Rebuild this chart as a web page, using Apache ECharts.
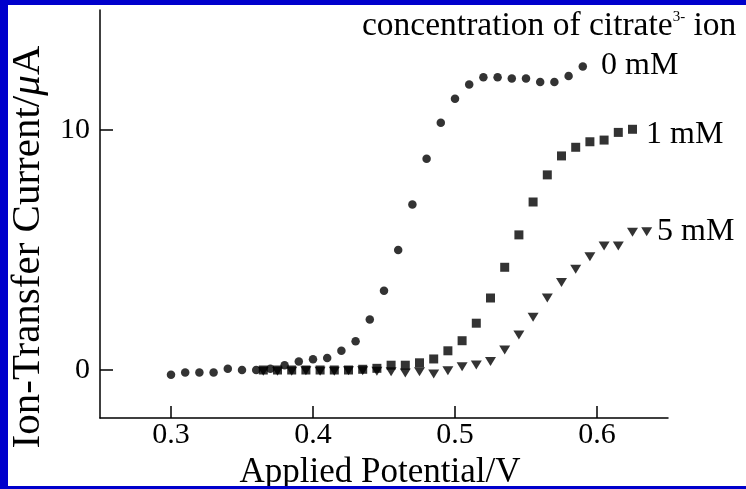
<!DOCTYPE html>
<html>
<head>
<meta charset="utf-8">
<script src="https://cdn.jsdelivr.net/npm/echarts@6/dist/echarts.min.js"></script>
<style>
  html, body { margin: 0; padding: 0; background: #fff; overflow: hidden; width: 100%; height: 100%; }
  #frame {
    position: fixed; left: 0; top: 0; width: 100%; height: 100%;
    box-sizing: border-box;
    border-left: 8px solid #0000cc; border-top: 5px solid #0000cc; border-bottom: 3px solid #0000cc;
  }
  #chart { width: 100%; height: 100%; }
</style>
</head>
<body>
<div id="frame"><div id="chart"></div></div>
<script>
// 0 mM citrate (circles)
const x0 = [0.30, 0.31, 0.32, 0.33, 0.34, 0.35, 0.36, 0.37, 0.38, 0.39,
  0.40, 0.41, 0.42, 0.43, 0.44, 0.45, 0.46, 0.47, 0.48, 0.49,
  0.50, 0.51, 0.52, 0.53, 0.54, 0.55, 0.56, 0.57, 0.58, 0.59];
const y0 = [-0.2, -0.1, -0.1, -0.1, 0.05, 0.0, 0.0, 0.05, 0.2, 0.35,
  0.45, 0.5, 0.8, 1.2, 2.1, 3.3, 5.0, 6.9, 8.8, 10.3,
  11.3, 11.9, 12.2, 12.2, 12.15, 12.15, 12.0, 12.0, 12.25, 12.65];

// 1 mM (squares)
const x1 = [0.365, 0.375, 0.385, 0.395, 0.405, 0.415, 0.425, 0.435, 0.445,
  0.455, 0.465, 0.475, 0.485, 0.495, 0.505, 0.515, 0.525, 0.535, 0.545,
  0.555, 0.565, 0.575, 0.585, 0.595, 0.605, 0.615, 0.625];
const y1 = [0, 0, 0, 0, 0, 0, 0, 0.03, 0.07,
  0.2, 0.2, 0.3, 0.46, 0.8, 1.22, 1.95, 3.0, 4.28, 5.63,
  7.0, 8.13, 8.92, 9.28, 9.51, 9.58, 9.9, 10.03];

// 5 mM (triangles)
const x2 = [0.365, 0.375, 0.385, 0.395, 0.405, 0.415, 0.425, 0.435, 0.445,
  0.455, 0.465, 0.475, 0.485, 0.495, 0.505, 0.515, 0.525, 0.535, 0.545,
  0.555, 0.565, 0.575, 0.585, 0.595, 0.605, 0.615, 0.625, 0.635];
const y2 = [-0.05, -0.05, -0.05, -0.03, -0.05, -0.05, -0.03, -0.03, -0.05,
  -0.07, -0.13, -0.07, -0.17, -0.03, 0.14, 0.21, 0.35, 0.83, 1.46,
  2.2, 3.0, 3.65, 4.2, 4.72, 5.17, 5.17, 5.74, 5.76];

const xTicks = [0.3, 0.4, 0.5, 0.6];
const yTicks = [0, 10];

const pairs = (xs, ys) => xs.map((x, i) => [x, ys[i]]);
const serif = 'Liberation Serif';

const chart = echarts.init(document.getElementById('chart'));
chart.setOption({
  animation: false,
  grid: { left: 92, top: 5, right: 78, bottom: 68, containLabel: false, outerBoundsMode: 'none' },
  xAxis: {
    type: 'value',
    min: 0.25,
    max: 0.65,
    name: 'Applied Potential/V',
    nameLocation: 'middle',
    nameGap: 32,
    nameTextStyle: { fontFamily: serif, fontSize: 35, color: '#000', padding: [0, 8, 0, 0] },
    axisLine: { onZero: false, lineStyle: { color: '#000', width: 1.5 } },
    axisTick: { inside: true, length: 12, customValues: xTicks, lineStyle: { color: '#000', width: 1.5 } },
    axisLabel: {
      customValues: xTicks,
      margin: 2,
      fontFamily: serif, fontSize: 30, color: '#000',
      formatter: (v) => v.toFixed(1),
    },
    splitLine: { show: false },
  },
  yAxis: {
    type: 'value',
    min: -2,
    max: 15,
    name: 'Ion-Transfer Current/{i|μ}A',
    nameLocation: 'middle',
    nameGap: 50,
    nameTextStyle: {
      fontFamily: serif, fontSize: 41, color: '#000',
      padding: [0, 66, 0, 0],
      rich: { i: { fontFamily: serif, fontSize: 41, fontStyle: 'italic', color: '#000' } },
    },
    axisLine: { onZero: false, lineStyle: { color: '#000', width: 1.5 } },
    axisTick: { inside: true, length: 13, customValues: yTicks, lineStyle: { color: '#000', width: 1.5 } },
    axisLabel: {
      customValues: yTicks,
      margin: 10,
      fontFamily: serif, fontSize: 30, color: '#000',
    },
    splitLine: { show: false },
  },
  graphic: [
    {
      type: 'text', x: 354, y: 21,
      style: {
        text: '{a|concentration of citrate}{s|3-}{a| ion}',
        verticalAlign: 'middle',
        rich: {
          a: { fontFamily: serif, fontSize: 33.5, fill: '#000' },
          s: { fontFamily: serif, fontSize: 15, fill: '#000', padding: [0, 0, 17, 0] },
        },
      },
    },
    { type: 'text', x: 593, y: 61, style: { text: '0 mM', font: '32px "Liberation Serif"', fill: '#000', verticalAlign: 'middle' } },
    { type: 'text', x: 638, y: 130, style: { text: '1 mM', font: '32px "Liberation Serif"', fill: '#000', verticalAlign: 'middle' } },
    { type: 'text', x: 649, y: 227, style: { text: '5 mM', font: '32px "Liberation Serif"', fill: '#000', verticalAlign: 'middle' } },
  ],
  series: [
    {
      name: '0 mM', type: 'scatter', data: pairs(x0, y0),
      symbol: 'circle', symbolSize: 8.5, itemStyle: { color: '#000' },
    },
    {
      name: '1 mM', type: 'scatter', data: pairs(x1, y1),
      symbol: 'rect', symbolSize: 9, itemStyle: { color: '#000' },
    },
    {
      name: '5 mM', type: 'scatter', data: pairs(x2, y2),
      symbol: 'triangle', symbolRotate: 180, symbolSize: [11, 9], itemStyle: { color: '#000' },
    },
  ],
});
window.addEventListener('resize', () => { chart.resize(); });
</script>
</body>
</html>
